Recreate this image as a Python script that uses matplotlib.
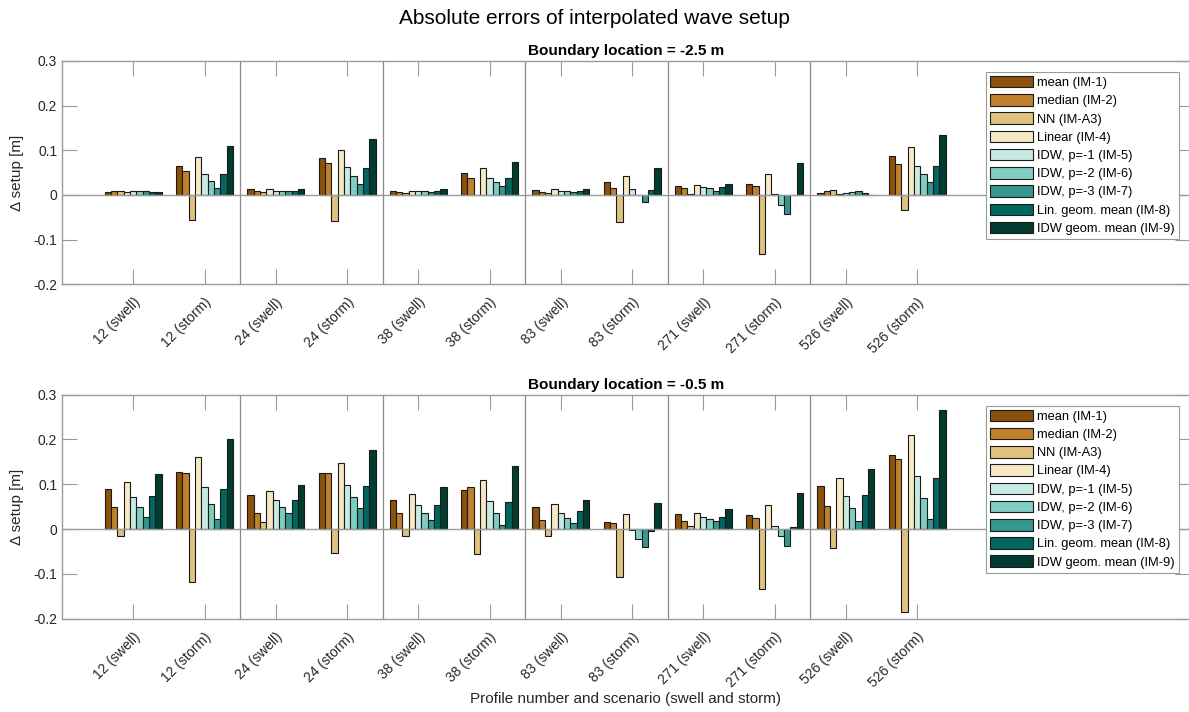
import numpy as np
import matplotlib
matplotlib.use("Agg")
import matplotlib.pyplot as plt
from matplotlib.patches import Patch
from matplotlib.ticker import FuncFormatter

plt.rcParams["font.family"] = ["Liberation Sans", "DejaVu Sans"]
plt.rcParams["axes.unicode_minus"] = False

# Profile / scenario categories on the x axis
categories = ["12 (swell)", "12 (storm)", "24 (swell)", "24 (storm)",
              "38 (swell)", "38 (storm)", "83 (swell)", "83 (storm)",
              "271 (swell)", "271 (storm)", "526 (swell)", "526 (storm)"]

# Interpolation methods (one bar per method inside each category)
methods = ["mean (IM-1)", "median (IM-2)", "NN (IM-A3)", "Linear (IM-4)",
           "IDW, p=-1 (IM-5)", "IDW, p=-2 (IM-6)", "IDW, p=-3 (IM-7)",
           "Lin. geom. mean (IM-8)", "IDW geom. mean (IM-9)"]

method_colors = ["#8c510a", "#bf812d", "#dfc27d", "#f6e8c3", "#c7eae5",
                 "#80cdc1", "#35978f", "#01665e", "#003c30"]

# Setup error [m], boundary at -2.5 m: one row per category, one column per method
err_boundary_25 = [
    [0.006, 0.010, 0.010, 0.006, 0.008, 0.008, 0.008, 0.006, 0.006],
    [0.066, 0.053, -0.057, 0.086, 0.048, 0.031, 0.015, 0.046, 0.110],
    [0.013, 0.008, 0.006, 0.014, 0.010, 0.010, 0.008, 0.010, 0.014],
    [0.082, 0.072, -0.059, 0.100, 0.062, 0.042, 0.024, 0.060, 0.125],
    [0.009, 0.006, 0.005, 0.010, 0.008, 0.008, 0.006, 0.008, 0.013],
    [0.050, 0.039, -0.001, 0.060, 0.039, 0.030, 0.020, 0.037, 0.073],
    [0.011, 0.006, 0.004, 0.013, 0.010, 0.008, 0.006, 0.010, 0.013],
    [0.028, 0.015, -0.060, 0.042, 0.013, -0.001, -0.015, 0.011, 0.060],
    [0.020, 0.015, 0.002, 0.022, 0.017, 0.015, 0.010, 0.017, 0.025],
    [0.024, 0.019, -0.133, 0.046, 0.002, -0.022, -0.042, 0.001, 0.071],
    [0.004, 0.010, 0.012, 0.002, 0.004, 0.006, 0.008, 0.004, 0.001],
    [0.087, 0.069, -0.034, 0.107, 0.066, 0.046, 0.029, 0.065, 0.134],
]

# Setup error [m], boundary at -0.5 m
err_boundary_05 = [
    [0.090, 0.049, -0.016, 0.106, 0.071, 0.050, 0.028, 0.073, 0.124],
    [0.127, 0.125, -0.119, 0.160, 0.093, 0.055, 0.022, 0.090, 0.201],
    [0.075, 0.037, 0.015, 0.084, 0.064, 0.050, 0.037, 0.064, 0.099],
    [0.125, 0.125, -0.054, 0.148, 0.098, 0.071, 0.046, 0.096, 0.177],
    [0.066, 0.035, -0.015, 0.078, 0.053, 0.035, 0.020, 0.053, 0.095],
    [0.087, 0.093, -0.055, 0.110, 0.063, 0.035, 0.010, 0.061, 0.140],
    [0.049, 0.020, -0.015, 0.056, 0.037, 0.025, 0.013, 0.040, 0.066],
    [0.015, 0.013, -0.106, 0.034, -0.002, -0.022, -0.040, -0.004, 0.058],
    [0.033, 0.019, 0.008, 0.037, 0.026, 0.022, 0.018, 0.026, 0.044],
    [0.031, 0.025, -0.133, 0.053, 0.008, -0.015, -0.037, 0.005, 0.081],
    [0.096, 0.051, -0.043, 0.113, 0.073, 0.046, 0.018, 0.076, 0.135],
    [0.166, 0.156, -0.185, 0.210, 0.118, 0.069, 0.022, 0.113, 0.266],
]

panel_titles = ["Boundary location = -2.5 m", "Boundary location = -0.5 m"]
yticks = [-0.2, -0.1, 0, 0.1, 0.2, 0.3]

AX_GRAY = "#9a9a9a"
TXT = "#262626"

fig = plt.figure(figsize=(11.89, 7.12), dpi=100)
W, H = 1189.0, 712.0
left = 62 / W
width = (1190 - 62) / W
positions = [(left, 1 - 284.3 / H, width, (284.3 - 61) / H),
             (left, 1 - 618.7 / H, width, (618.7 - 394.7) / H)]

fig.text(0.5, 1 - 18 / H, "Absolute errors of interpolated wave setup",
         ha="center", va="center", fontsize=15, color="black")

x = np.arange(1, len(categories) + 1)
n = len(methods)
group_w = 0.8
bar_w = group_w / n

for pos, data, title in zip(positions, [err_boundary_25, err_boundary_05], panel_titles):
    ax = fig.add_axes(pos)
    vals = np.array(data).T
    for i in range(n):
        offs = -group_w / 2 + bar_w * (i + 0.5)
        ax.bar(x + offs, vals[i], width=bar_w, color=method_colors[i],
               edgecolor="#1a1a1a", linewidth=0.8, zorder=3)
    ax.axhline(0, color=AX_GRAY, linewidth=1.0, zorder=4)
    for sep in np.arange(2.5, 11, 2):
        ax.axvline(sep, color="#8a8a8a", linewidth=0.9, zorder=2)
    ax.set_xlim(0, 15.83)
    ax.set_ylim(-0.2, 0.3)
    ax.set_yticks(yticks)
    ax.yaxis.set_major_formatter(FuncFormatter(lambda v, p: f"{v:g}"))
    ax.set_xticks(x)
    ax.set_xticklabels(categories, rotation=45, ha="right", va="top",
                       rotation_mode="anchor", fontsize=10, color=TXT)
    ax.tick_params(axis="both", direction="in", length=11, width=0.8,
                   color=AX_GRAY, top=True, right=True, labelsize=10,
                   labelcolor=TXT)
    ax.tick_params(axis="x", pad=8)
    for s in ax.spines.values():
        s.set_color(AX_GRAY)
        s.set_linewidth(1.0)
    ax.set_title(title, fontsize=11, fontweight="bold", pad=4, color="black")
    ax.set_ylabel("\u0394 setup [m]", fontsize=11, color=TXT, va="center")
    ax.yaxis.set_label_coords((17 - 62) / 1128, 0.5)
    handles = [Patch(facecolor=c, edgecolor="#1a1a1a", linewidth=0.8)
               for c in method_colors]
    leg = ax.legend(handles, methods, loc="upper right",
                    bbox_to_anchor=(0.990, 0.951), borderaxespad=0,
                    fontsize=9.3, labelspacing=0.39, handlelength=3.33,
                    handleheight=1.0, handletextpad=0.3, borderpad=0.3,
                    fancybox=False, framealpha=1, edgecolor=AX_GRAY)
    leg.get_frame().set_linewidth(0.8)
    last_ax = ax

last_ax.set_xlabel("Profile number and scenario (swell and storm)",
                   fontsize=11, color=TXT, va="center")
last_ax.xaxis.set_label_coords(0.5, -(699 - 618.7) / 224)

fig.savefig("out.png", dpi=100)
